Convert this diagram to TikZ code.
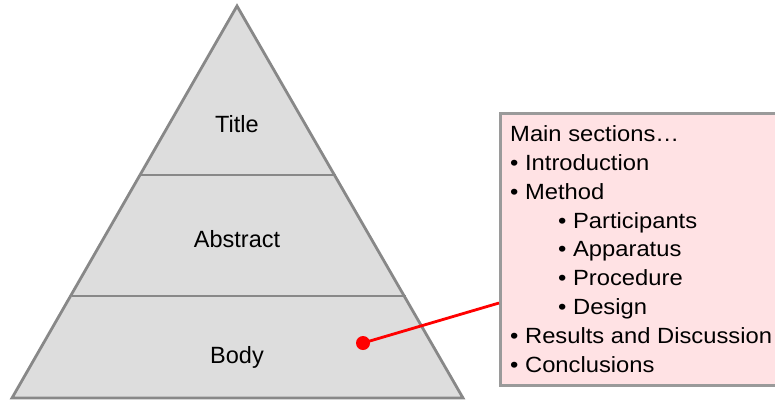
\documentclass[tikz,border=0pt]{standalone}
\usepackage{fontspec}
\setmainfont{Liberation Sans}
\newfontfamily\listfont[FakeStretch=1.08]{Liberation Sans}
\definecolor{pyrfill}{HTML}{DDDDDD}
\definecolor{pyredge}{HTML}{888888}
\definecolor{boxfill}{HTML}{FFE2E4}
\definecolor{boxedge}{HTML}{9A9A9A}
\begin{document}
\begin{tikzpicture}[x=1pt,y=-1pt,
  pyrline/.style={draw=pyredge, line width=2.8pt},
  layerlabel/.style={font=\fontsize{23.5}{27}\selectfont, inner sep=0pt, anchor=base},
  itemline/.style={font=\listfont\fontsize{22}{26}\selectfont, anchor=base west, inner sep=0pt},
  notebox/.style={draw=boxedge, fill=boxfill, line width=2.8pt, inner sep=0pt}]
\useasboundingbox (0,0) rectangle (775,400);
% pyramid with two dividers
\coordinate (apex) at (237,6);
\coordinate (bl) at (12,398);
\coordinate (br) at (463,398);
\fill[pyrfill] (apex) -- (br) -- (bl) -- cycle;
\draw[pyrline] (140,175) -- (336,175);
\draw[pyrline] (72,296) -- (406,296);
\draw[pyrline, line join=miter] (apex) -- (br) -- (bl) -- cycle;
\node[layerlabel] (title) at (237,132) {Title};
\node[layerlabel] (abstract) at (237,247) {Abstract};
\node[layerlabel] (body) at (237,363) {Body};
% note box with the list of main sections
\node[notebox, minimum width=290pt, minimum height=272pt, anchor=north west] (note) at (499,112) {};
\node[itemline] (l1) at (510,141) {Main sections…};
\node[itemline] (l2) at (510,170) {• Introduction};
\node[itemline] (l3) at (510,199) {• Method};
\node[itemline] (l4) at (558,228) {• Participants};
\node[itemline] (l5) at (558,256) {• Apparatus};
\node[itemline] (l6) at (558,285) {• Procedure};
\node[itemline] (l7) at (558,314) {• Design};
\node[itemline] (l8) at (510,343) {• Results and Discussion};
\node[itemline] (l9) at (510,372) {• Conclusions};
% pointer from the body layer to the box
\node[circle, fill=red, inner sep=0pt, minimum size=14pt] (dot) at (363,343) {};
\coordinate (hook) at (499,303);
\draw[red, line width=2.8pt] (dot.center) -- (hook);
\end{tikzpicture}
\end{document}
